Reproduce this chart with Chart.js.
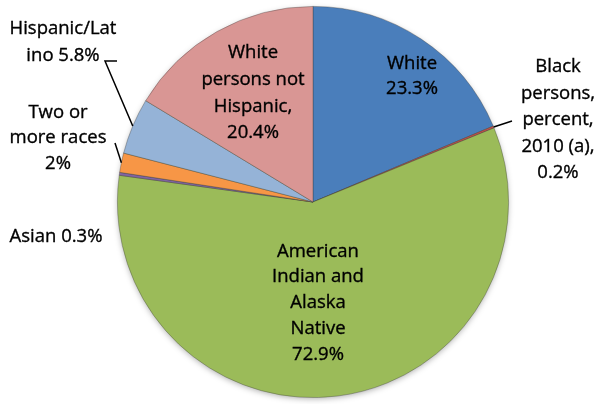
<!DOCTYPE html>
<html>
<head>
<meta charset="utf-8">
<script src="https://cdn.jsdelivr.net/npm/chart.js@4.4.1/dist/chart.umd.min.js"></script>
<style>
    html, body { margin: 0; padding: 0; background: #ffffff; }
    #wrap { position: relative; width: 598px; height: 404px; }
</style>
</head>
<body>
<div id="wrap"><canvas id="pie"></canvas></div>
<script>
// Data (shares do not add up to 100 in the source)
const categories = [
    'White',
    'Black persons, percent, 2010 (a)',
    'American Indian and Alaska Native',
    'Asian',
    'Two or more races',
    'Hispanic/Latino',
    'White persons not Hispanic'
];
const values = [23.3, 0.2, 72.9, 0.3, 2, 5.8, 20.4];

// Label text as it is wrapped in the picture
const labelLines = [
    ['White', '23.3%'],
    ['Black', 'persons,', 'percent,', '2010 (a),', '0.2%'],
    ['American', 'Indian and', 'Alaska', 'Native', '72.9%'],
    ['Asian 0.3%'],
    ['Two or', 'more races', '2%'],
    ['Hispanic/Lat', 'ino 5.8%'],
    ['White', 'persons not', 'Hispanic,', '20.4%']
];

const colors = ['#4A7EBB', '#C0504D', '#9BBB59', '#8064A2', '#F79646', '#95B3D7', '#D99694'];

// Label placement, offsets from the pie centre in px; leader = bend points
const labelLayout = [
    { dx: 99,   dy: -126, lh: 25 },
    { dx: 245,  dy: -82,  lh: 26.5, leader: [[199, -81]] },
    { dx: 5,    dy: 101,  lh: 25.8 },
    { dx: -257, dy: 35,   lh: 25 },
    { dx: -255, dy: -64,  lh: 25.5, leader: [[-198, -59]] },
    { dx: -250, dy: -160, lh: 27,   leader: [[-208, -141], [-196, -141]] },
    { dx: -60,  dy: -109, lh: 26.7 }
];

function shade(hex, amt) {
    const n = parseInt(hex.slice(1), 16);
    const f = c => Math.max(0, Math.min(255, Math.round(c + (amt > 0 ? (255 - c) * amt : c * amt))));
    const r = f(n >> 16), g = f((n >> 8) & 255), b = f(n & 255);
    return `rgb(${r},${g},${b})`;
}

// Slight bevel like the Excel original
function sliceFill(context) {
    const chart = context.chart;
    const arc = chart.getDatasetMeta(0).data[context.dataIndex];
    const base = colors[context.dataIndex];
    if (!arc || !arc.outerRadius) return base;
    const g = chart.ctx.createRadialGradient(arc.x, arc.y, 0, arc.x, arc.y, arc.outerRadius);
    g.addColorStop(0, base);
    g.addColorStop(0.88, base);
    g.addColorStop(0.95, shade(base, 0.18));
    g.addColorStop(1, shade(base, -0.18));
    return g;
}

const labelPlugin = {
    id: 'sliceLabels',
    afterDraw(chart) {
        const ctx = chart.ctx;
        const arcs = chart.getDatasetMeta(0).data;
        const cx = arcs[0].x, cy = arcs[0].y;
        ctx.save();
        ctx.font = '18.5px "Open Sans", Lato, sans-serif';
        ctx.fillStyle = '#000000';
        ctx.strokeStyle = '#000000';
        ctx.textAlign = 'center';
        ctx.textBaseline = 'middle';
        labelLines.forEach((lines, i) => {
            const lay = labelLayout[i];
            const x = cx + lay.dx;
            const y0 = cy + lay.dy - (lines.length - 1) * lay.lh / 2;
            ctx.lineWidth = 0.35;
            lines.forEach((t, k) => {
                ctx.fillText(t, x, y0 + k * lay.lh);
                ctx.strokeText(t, x, y0 + k * lay.lh);
            });

            if (lay.leader) {
                const a = arcs[i];
                const mid = (a.startAngle + a.endAngle) / 2;
                ctx.lineWidth = 1.5;
                ctx.beginPath();
                const pts = lay.leader.map(p => [cx + p[0], cy + p[1]]);
                ctx.moveTo(pts[pts.length - 1][0], pts[pts.length - 1][1]);
                for (let k = pts.length - 2; k >= 0; k--) ctx.lineTo(pts[k][0], pts[k][1]);
                ctx.lineTo(cx + Math.cos(mid) * a.outerRadius, cy + Math.sin(mid) * a.outerRadius);
                ctx.stroke();
            }
        });
        ctx.restore();
    }
};

const shadowPlugin = {
    id: 'pieShadow',
    beforeDatasetsDraw(chart) {
        const a = chart.getDatasetMeta(0).data[0];
        const ctx = chart.ctx;
        ctx.save();
        ctx.shadowColor = 'rgba(0,0,0,0.35)';
        ctx.shadowBlur = 6;
        ctx.shadowOffsetY = 2;
        ctx.fillStyle = '#9BBB59';
        ctx.beginPath();
        ctx.arc(a.x, a.y, a.outerRadius - 1, 0, Math.PI * 2);
        ctx.fill();
        ctx.restore();
    }
};

new Chart(document.getElementById('pie'), {
    type: 'pie',
    data: {
        labels: categories,
        datasets: [{
            data: values,
            backgroundColor: sliceFill,
            borderColor: 'rgba(60,60,60,0.45)',
            borderWidth: 0.8
        }]
    },
    options: {
        responsive: true,
        maintainAspectRatio: false,
        animation: false,
        layout: { padding: { left: 117, right: 89, top: 6, bottom: 6 } },
        plugins: {
            legend: { display: false },
            tooltip: { enabled: false }
        }
    },
    plugins: [shadowPlugin, labelPlugin]
});
</script>
</body>
</html>
